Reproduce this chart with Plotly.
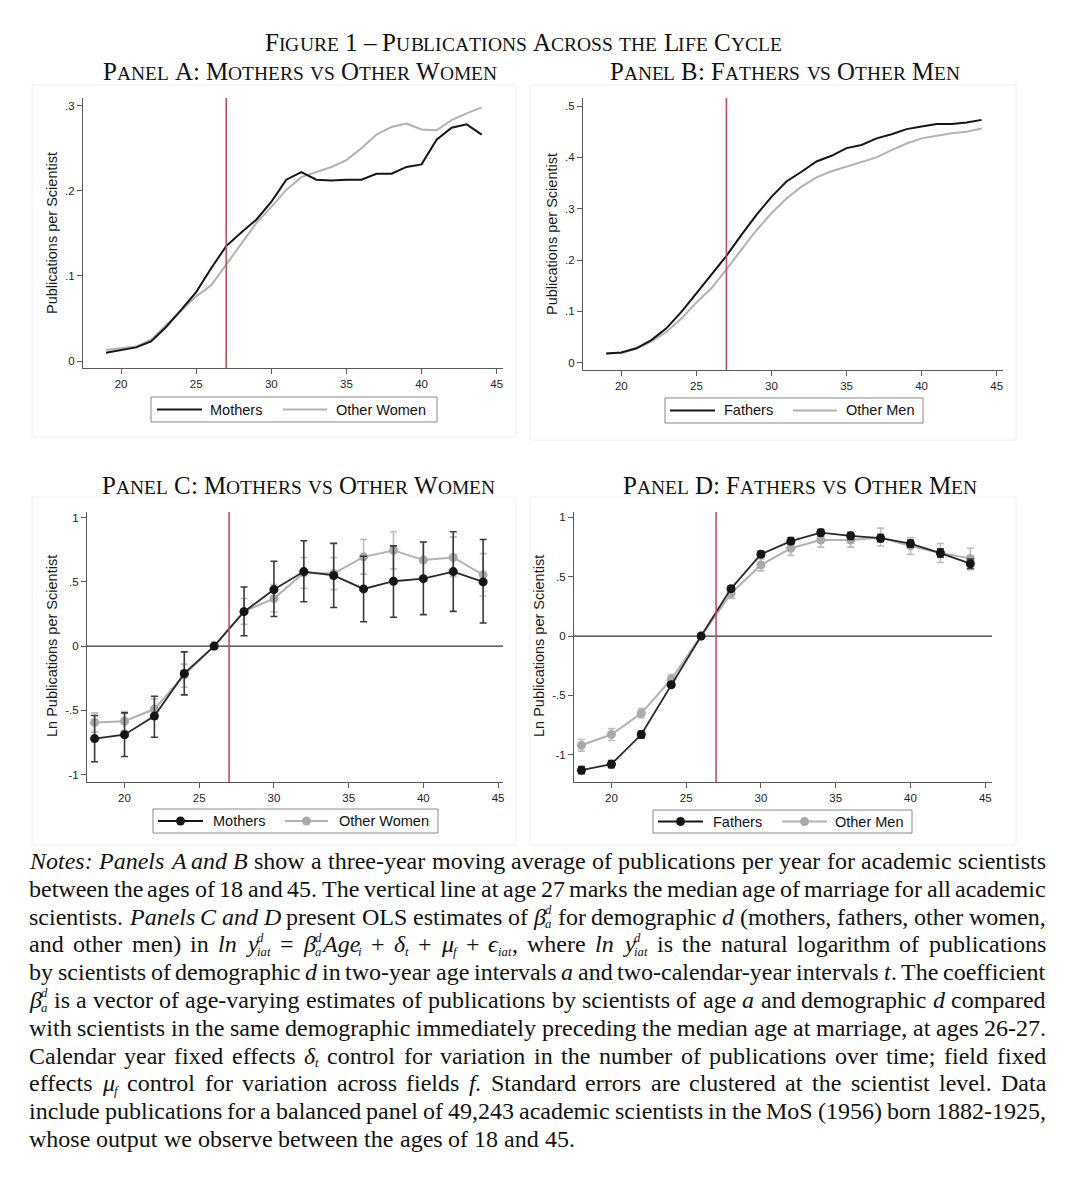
import re
import html as _html
import plotly.graph_objects as go

W, H = 1082, 1200

# ---------------- data ----------------
AGES_AB = list(range(19, 45))
MOTHERS_A = [0.0098, 0.0125, 0.016, 0.023, 0.040, 0.060, 0.081, 0.109, 0.135, 0.151,
             0.166, 0.187, 0.213, 0.222, 0.213, 0.212, 0.213, 0.213, 0.220, 0.220,
             0.228, 0.231, 0.260, 0.274, 0.278, 0.266]
OTHER_WOMEN_A = [0.013, 0.015, 0.017, 0.025, 0.042, 0.060, 0.076, 0.089, 0.113, 0.138,
                 0.162, 0.181, 0.201, 0.216, 0.222, 0.228, 0.236, 0.250, 0.266, 0.275,
                 0.279, 0.272, 0.271, 0.283, 0.291, 0.298]
FATHERS_B = [0.018, 0.020, 0.028, 0.044, 0.067, 0.099, 0.135, 0.171, 0.208, 0.249,
             0.288, 0.323, 0.353, 0.372, 0.392, 0.403, 0.418, 0.424, 0.437, 0.445,
             0.455, 0.460, 0.465, 0.465, 0.468, 0.473]
OTHER_MEN_B = [0.018, 0.019, 0.027, 0.041, 0.060, 0.086, 0.117, 0.145, 0.182, 0.219,
               0.258, 0.291, 0.320, 0.343, 0.361, 0.373, 0.382, 0.392, 0.400, 0.414,
               0.427, 0.437, 0.442, 0.447, 0.450, 0.456]

AGES_CD = list(range(18, 46, 2))
MOTHERS_C = [-0.72, -0.69, -0.545, -0.213, 0.0, 0.268, 0.44, 0.58, 0.55, 0.445, 0.505, 0.525, 0.58, 0.50]
MOTHERS_C_LO = [-0.90, -0.86, -0.71, -0.38, 0.0, 0.08, 0.23, 0.345, 0.30, 0.19, 0.225, 0.245, 0.27, 0.18]
MOTHERS_C_HI = [-0.54, -0.52, -0.39, -0.045, 0.0, 0.46, 0.66, 0.82, 0.80, 0.70, 0.78, 0.81, 0.89, 0.83]
OTHER_WOMEN_C = [-0.595, -0.585, -0.49, -0.225, 0.0, 0.27, 0.37, 0.57, 0.565, 0.695, 0.745, 0.67, 0.69, 0.555]
OTHER_WOMEN_C_LO = [-0.67, -0.66, -0.57, -0.32, 0.0, 0.17, 0.265, 0.45, 0.44, 0.56, 0.60, 0.53, 0.54, 0.39]
OTHER_WOMEN_C_HI = [-0.52, -0.51, -0.41, -0.14, 0.0, 0.37, 0.48, 0.69, 0.69, 0.83, 0.89, 0.81, 0.85, 0.72]

FATHERS_D = [-1.13, -1.08, -0.83, -0.41, 0.0, 0.40, 0.69, 0.80, 0.872, 0.845, 0.825, 0.78, 0.70, 0.61]
FATHERS_D_LO = [-1.16, -1.11, -0.86, -0.43, 0.0, 0.38, 0.665, 0.775, 0.845, 0.815, 0.795, 0.75, 0.665, 0.57]
FATHERS_D_HI = [-1.10, -1.05, -0.80, -0.39, 0.0, 0.42, 0.715, 0.83, 0.90, 0.875, 0.855, 0.81, 0.735, 0.65]
OTHER_MEN_D = [-0.92, -0.83, -0.65, -0.365, 0.0, 0.36, 0.60, 0.74, 0.81, 0.81, 0.83, 0.76, 0.70, 0.655]
OTHER_MEN_D_LO = [-0.97, -0.88, -0.69, -0.40, 0.0, 0.32, 0.55, 0.68, 0.75, 0.75, 0.76, 0.69, 0.62, 0.56]
OTHER_MEN_D_HI = [-0.87, -0.78, -0.61, -0.325, 0.0, 0.40, 0.65, 0.80, 0.87, 0.87, 0.91, 0.83, 0.78, 0.74]

MARRIAGE_AGE = 27
X_TICKS = [20, 25, 30, 35, 40, 45]
X_LABELS = ["20", "25", "30", "35", "40", "45"]
Y_TICKS_A = [0, 0.1, 0.2, 0.3]
Y_LABELS_A = ["0", ".1", ".2", ".3"]
Y_TICKS_B = [0, 0.1, 0.2, 0.3, 0.4, 0.5]
Y_LABELS_B = ["0", ".1", ".2", ".3", ".4", ".5"]
Y_TICKS_CD = [-1, -0.5, 0, 0.5, 1]
Y_LABELS_CD = ["-1", "-.5", "0", ".5", "1"]

FIG_TITLE = "Figure 1 – Publications Across the Life Cycle"
PANEL_TITLES = ["Panel A: Mothers vs Other Women", "Panel B: Fathers vs Other Men",
                "Panel C: Mothers vs Other Women", "Panel D: Fathers vs Other Men"]
Y_TITLES = ["Publications per Scientist", "Publications per Scientist",
            "Ln Publications per Scientist", "Ln Publications per Scientist"]
LEGEND_LABELS = [("Mothers", "Other Women"), ("Fathers", "Other Men"),
                 ("Mothers", "Other Women"), ("Fathers", "Other Men")]

NOTES = [
    "<i>Notes:</i> <i>Panels</i> <i>A</i> <i>and</i> <i>B</i> show a three-year moving average of publications per year for academic scientists",
    "between the ages of 18 and 45. The vertical line at age 27 marks the median age of marriage for all academic",
    "scientists. <i>Panels</i> <i>C</i> <i>and</i> <i>D</i> present OLS estimates of <i>β<sup>d</sup><sub>a</sub></i> for demographic <i>d</i> (mothers, fathers, other women,",
    "and other men) in <i>ln</i> <i>y<sup>d</sup><sub>iat</sub></i> = <i>β<sup>d</sup><sub>a</sub>Age<sub>i</sub></i> + <i>δ<sub>t</sub></i> + <i>μ<sub>f</sub></i> + <i>ϵ<sub>iat</sub></i>, where <i>ln</i> <i>y<sup>d</sup><sub>iat</sub></i> is the natural logarithm of publications",
    "by scientists of demographic <i>d</i> in two-year age intervals <i>a</i> and two-calendar-year intervals <i>t</i>. The coefficient",
    "<i>β<sup>d</sup><sub>a</sub></i> is a vector of age-varying estimates of publications by scientists of age <i>a</i> and demographic <i>d</i> compared",
    "with scientists in the same demographic immediately preceding the median age at marriage, at ages 26-27.",
    "Calendar year fixed effects <i>δ<sub>t</sub></i> control for variation in the number of publications over time; field fixed",
    "effects <i>μ<sub>f</sub></i> control for variation across fields <i>f</i>. Standard errors are clustered at the scientist level. Data",
    "include publications for a balanced panel of 49,243 academic scientists in the MoS (1956) born 1882-1925,",
    "whose output we observe between the ages of 18 and 45.",
]

# ---------------- font metrics (Times) ----------------
TIMES_R = {' ': 250, '!': 333, ',': 250, '-': 333, '.': 250, ':': 278, ';': 278, '(': 333, ')': 333,
           '=': 564, '+': 564, '–': 500, "'": 333,
           'A': 722, 'B': 667, 'C': 667, 'D': 722, 'E': 611, 'F': 556, 'G': 722, 'H': 722, 'I': 333,
           'J': 389, 'K': 722, 'L': 611, 'M': 889, 'N': 722, 'O': 722, 'P': 556, 'Q': 722, 'R': 667,
           'S': 556, 'T': 611, 'U': 722, 'V': 722, 'W': 944, 'X': 722, 'Y': 722, 'Z': 611,
           'a': 444, 'b': 500, 'c': 444, 'd': 500, 'e': 444, 'f': 333, 'g': 500, 'h': 500, 'i': 278,
           'j': 278, 'k': 500, 'l': 278, 'm': 778, 'n': 500, 'o': 500, 'p': 500, 'q': 500, 'r': 333,
           's': 389, 't': 278, 'u': 500, 'v': 500, 'w': 722, 'x': 500, 'y': 500, 'z': 444}
for _d in "0123456789":
    TIMES_R[_d] = 500
TIMES_I = dict(TIMES_R)
TIMES_I.update({'A': 611, 'B': 611, 'C': 667, 'D': 722, 'N': 667, 'P': 611, ':': 333,
                'a': 500, 'f': 278, 'k': 444, 'r': 389, 'v': 444, 'w': 667, 'y': 444, 'z': 389,
                'β': 500, 'δ': 450, 'μ': 500, 'ϵ': 420})

SCRIPT = 0.53      # size of sub/superscripts relative to text
SUP_UP = 0.43      # baseline shift (em) of superscripts
SUB_DOWN = 0.16    # baseline shift (em) of subscripts


def parse_word(s):
    """Split a word with <i>, <sup>, <sub> markup into (text, italic, pos) segments."""
    ital, pos, segs = 0, 'base', []
    for t in re.split(r'(<[^>]+>)', s):
        if not t:
            continue
        if t.startswith('<'):
            closing = t.startswith('</')
            tag = t.strip('</>').split()[0].lower()
            if tag == 'i':
                ital += -1 if closing else 1
            elif tag in ('sub', 'sup'):
                pos = 'base' if closing else tag
            continue
        t = _html.unescape(t)
        if segs and segs[-1][1] == (ital > 0) and segs[-1][2] == pos:
            segs[-1][0] += t
        else:
            segs.append([t, ital > 0, pos])
    return segs


def seg_w(text, italic, size):
    tbl = TIMES_I if italic else TIMES_R
    return sum(tbl.get(c, 500) for c in text) / 1000.0 * size


def layout_word(segs, size):
    """Return placed pieces (dx, text, italic, fontsize, baseline_shift) and the advance width."""
    pieces, x, i = [], 0.0, 0
    while i < len(segs):
        t, it, pos = segs[i]
        if pos == 'base':
            pieces.append((x, t, it, size, 0.0))
            x += seg_w(t, it, size)
            i += 1
        else:
            group = [segs[i]]
            if i + 1 < len(segs) and segs[i + 1][2] not in ('base', pos):
                group.append(segs[i + 1])
            adv = 0.0
            for t2, it2, p2 in group:
                ss = size * SCRIPT
                shift = -SUP_UP * size if p2 == 'sup' else SUB_DOWN * size
                pieces.append((x, t2, it2, ss, shift))
                adv = max(adv, seg_w(t2, it2, ss))
            x += adv
            i += len(group)
    return pieces, x


def px(x):
    return x / W


def py(y):
    return 1 - y / H


# ---------------- panel geometry (pixels) ----------------
PANELS = [
    dict(x0=83, x1=503, y0=98, y1=368, xr=[17.47, 45.42], yr=[-0.0082, 0.309],
         yt=Y_TICKS_A, yl=Y_LABELS_A),
    dict(x0=583, x1=1003, y0=98, y1=370, xr=[17.45, 45.42], yr=[-0.0142, 0.5156],
         yt=Y_TICKS_B, yl=Y_LABELS_B),
    dict(x0=87, x1=503, y0=512, y1=782, xr=[17.49, 45.33], yr=[-1.058, 1.044],
         yt=Y_TICKS_CD, yl=Y_LABELS_CD),
    dict(x0=574, x1=992, y0=512, y1=782, xr=[17.50, 45.45], yr=[-1.23, 1.046],
         yt=Y_TICKS_CD, yl=Y_LABELS_CD),
]

BLACK = "#151515"
GREY = "#b2b2b2"
AXIS = "#5a5a5a"
RED = "#c4505f"
SANS = "Liberation Sans, Arial, sans-serif"
SERIF = "Liberation Serif, Times New Roman, serif"

fig = go.Figure()
layout = dict(width=W, height=H, margin=dict(l=0, r=0, t=0, b=0),
              paper_bgcolor="white", plot_bgcolor="white", showlegend=False)

for i, p in enumerate(PANELS):
    n = '' if i == 0 else str(i + 1)
    layout['xaxis' + n] = dict(domain=[px(p['x0']), px(p['x1'])], range=p['xr'], anchor='y' + n,
                              tickvals=X_TICKS, ticktext=X_LABELS, ticks='outside', ticklen=5,
                              tickcolor=AXIS, showline=True, linecolor=AXIS, linewidth=1,
                              showgrid=False, zeroline=False,
                              tickfont=dict(family=SANS, size=11.5, color="#222"))
    layout['yaxis' + n] = dict(domain=[py(p['y1']), py(p['y0'])], range=p['yr'], anchor='x' + n,
                              tickvals=p['yt'], ticktext=p['yl'], ticks='outside', ticklen=5,
                              tickcolor=AXIS, showline=True, linecolor=AXIS, linewidth=1,
                              showgrid=False, zeroline=False,
                              tickfont=dict(family=SANS, size=11.5, color="#222"))

fig.update_layout(**layout)

# Panel A & B lines
for ax, (grey, black) in zip(['', '2'], [(OTHER_WOMEN_A, MOTHERS_A), (OTHER_MEN_B, FATHERS_B)]):
    fig.add_trace(go.Scatter(x=AGES_AB, y=grey, mode='lines', line=dict(color=GREY, width=2),
                             xaxis='x' + ax, yaxis='y' + ax))
    fig.add_trace(go.Scatter(x=AGES_AB, y=black, mode='lines', line=dict(color=BLACK, width=2),
                             xaxis='x' + ax, yaxis='y' + ax))

# Panel C & D estimates with CIs
for ax, (g, glo, ghi, b, blo, bhi) in zip(['3', '4'], [
        (OTHER_WOMEN_C, OTHER_WOMEN_C_LO, OTHER_WOMEN_C_HI, MOTHERS_C, MOTHERS_C_LO, MOTHERS_C_HI),
        (OTHER_MEN_D, OTHER_MEN_D_LO, OTHER_MEN_D_HI, FATHERS_D, FATHERS_D_LO, FATHERS_D_HI)]):
    fig.add_trace(go.Scatter(
        x=AGES_CD, y=g, mode='lines+markers', line=dict(color=GREY, width=2),
        marker=dict(color="#a9a9a9", size=9),
        error_y=dict(type='data', symmetric=False, array=[h - v for h, v in zip(ghi, g)],
                     arrayminus=[v - l for v, l in zip(g, glo)], color="#bdbdbd", thickness=1.6, width=3.5),
        xaxis='x' + ax, yaxis='y' + ax))
    fig.add_trace(go.Scatter(
        x=AGES_CD, y=b, mode='lines+markers', line=dict(color="#2a2a2a", width=1.8),
        marker=dict(color=BLACK, size=9),
        error_y=dict(type='data', symmetric=False, array=[h - v for h, v in zip(bhi, b)],
                     arrayminus=[v - l for v, l in zip(b, blo)], color="#3a3a3a", thickness=1.6, width=3.5),
        xaxis='x' + ax, yaxis='y' + ax))

shapes = []
# faint graph-region frames
for (a, b_, c, d) in [(32, 85, 516, 437), (530, 85, 1016, 440), (32, 497, 516, 845), (530, 497, 1016, 845)]:
    shapes.append(dict(type='rect', xref='paper', yref='paper', x0=px(a), x1=px(c), y0=py(d), y1=py(b_),
                       line=dict(color="#eeeeee", width=1), layer='below'))
# marriage-age line and zero lines
for i in range(4):
    n = '' if i == 0 else str(i + 1)
    shapes.append(dict(type='line', xref='x' + n, yref='y' + n + ' domain', x0=MARRIAGE_AGE, x1=MARRIAGE_AGE,
                       y0=0, y1=1, line=dict(color=RED, width=1.6)))
    if i >= 2:
        shapes.append(dict(type='line', xref='x' + n + ' domain', yref='y' + n, x0=0, x1=1, y0=0, y1=0,
                           line=dict(color="#333333", width=1.1), layer='below'))

annotations = []


def text_at(text, x_left, baseline, size, family=SERIF, italic=False, color="#111"):
    t = f"<i>{text}</i>" if italic else text
    annotations.append(dict(text=t, x=px(x_left - 1), y=py(baseline - 0.3375 * size), xref='paper',
                            yref='paper', xanchor='left', yanchor='middle', showarrow=False, borderpad=0,
                            font=dict(family=family, size=size, color=color)))


def glyph_at(ch, x_center, baseline, size):
    annotations.append(dict(text=ch, x=px(x_center), y=py(baseline - 0.3375 * size), xref='paper',
                            yref='paper', xanchor='center', yanchor='middle', showarrow=False, borderpad=0,
                            font=dict(family=SERIF, size=size, color="#111")))


# legends (pixel boxes)
LEGENDS = [
    dict(box=(151, 397, 437, 422), s1=(157, 202), t1=209, s2=(283, 327), t2=335, markers=False),
    dict(box=(665, 398, 923, 423), s1=(670, 715), t1=723, s2=(793, 837), t2=845, markers=False),
    dict(box=(153, 809, 438, 833), s1=(158, 203), t1=212, s2=(285, 328), t2=338, markers=True),
    dict(box=(653, 810, 912, 833), s1=(658, 703), t1=712, s2=(782, 827), t2=834, markers=True),
]
for lg, labels in zip(LEGENDS, LEGEND_LABELS):
    x0, y0, x1, y1 = lg['box']
    yc = (y0 + y1) / 2
    shapes.append(dict(type='rect', xref='paper', yref='paper', x0=px(x0), x1=px(x1), y0=py(y1), y1=py(y0),
                       line=dict(color="#8a8a8a", width=1), fillcolor="white"))
    for (sx0, sx1), tx, col, mcol, lab in [(lg['s1'], lg['t1'], BLACK, BLACK, labels[0]),
                                            (lg['s2'], lg['t2'], GREY, "#a9a9a9", labels[1])]:
        shapes.append(dict(type='line', xref='paper', yref='paper', x0=px(sx0), x1=px(sx1), y0=py(yc), y1=py(yc),
                           line=dict(color=col, width=2)))
        if lg['markers']:
            cx = (sx0 + sx1) / 2
            shapes.append(dict(type='circle', xref='paper', yref='paper', x0=px(cx - 4.5), x1=px(cx + 4.5),
                               y0=py(yc + 4.5), y1=py(yc - 4.5), fillcolor=mcol, line=dict(color=mcol, width=0)))
        annotations.append(dict(text=lab, x=px(tx - 1), y=py(yc), xref='paper', yref='paper', xanchor='left',
                                yanchor='middle', showarrow=False, font=dict(family=SANS, size=14.5, color="#111")))

# y-axis titles
for (xc, yc), t in zip([(52, 233), (552, 234), (52, 646), (539, 646)], Y_TITLES):
    annotations.append(dict(text=t, x=px(xc), y=py(yc), xref='paper', yref='paper', xanchor='center',
                            yanchor='middle', textangle=-90, showarrow=False,
                            font=dict(family=SANS, size=14.5, color="#1a1a1a")))

# titles in small caps: every letter centred on its metric advance, on a shared baseline
SC_RATIO = 0.78
for text, (x0, x1, base) in [(FIG_TITLE, (265, 782, 51)),
                             (PANEL_TITLES[0], (103, 497, 80)), (PANEL_TITLES[1], (610, 960, 80)),
                             (PANEL_TITLES[2], (102, 495, 494)), (PANEL_TITLES[3], (623, 977, 494))]:
    glyphs = [(ch.upper(), SC_RATIO if ch.islower() else 1.0) for ch in text]
    w1 = sum(seg_w(c, False, r) for c, r in glyphs)
    big = (x1 - x0) / w1
    x = x0
    for c, r in glyphs:
        size = big * r
        adv = seg_w(c, False, size)
        if c != ' ':
            glyph_at(c, x + adv / 2, base, size)
        x += adv

# notes paragraph, justified word by word
NOTE_SIZE = 24.0
NOTE_LEFT, NOTE_RIGHT = 29, 1046
BASE0, LEADING = 869, 27.8
for li, line in enumerate(NOTES):
    words = [layout_word(parse_word(w), NOTE_SIZE) for w in line.split(' ')]
    total = sum(adv for _, adv in words)
    last = li == len(NOTES) - 1
    if last or len(words) < 2:
        gap = 0.25 * NOTE_SIZE
    else:
        gap = max((NOTE_RIGHT - NOTE_LEFT - total) / (len(words) - 1), 0.12 * NOTE_SIZE)
    x = NOTE_LEFT
    base = BASE0 + li * LEADING
    for pieces, adv in words:
        for dx, t, it, size, shift in pieces:
            text_at(t, x + dx, base + shift, size, italic=it)
        x += adv + gap

fig.update_layout(shapes=shapes, annotations=annotations)

fig.write_html("out.html", config={'displayModeBar': False},
               post_script="document.body.style.margin='0px';")
